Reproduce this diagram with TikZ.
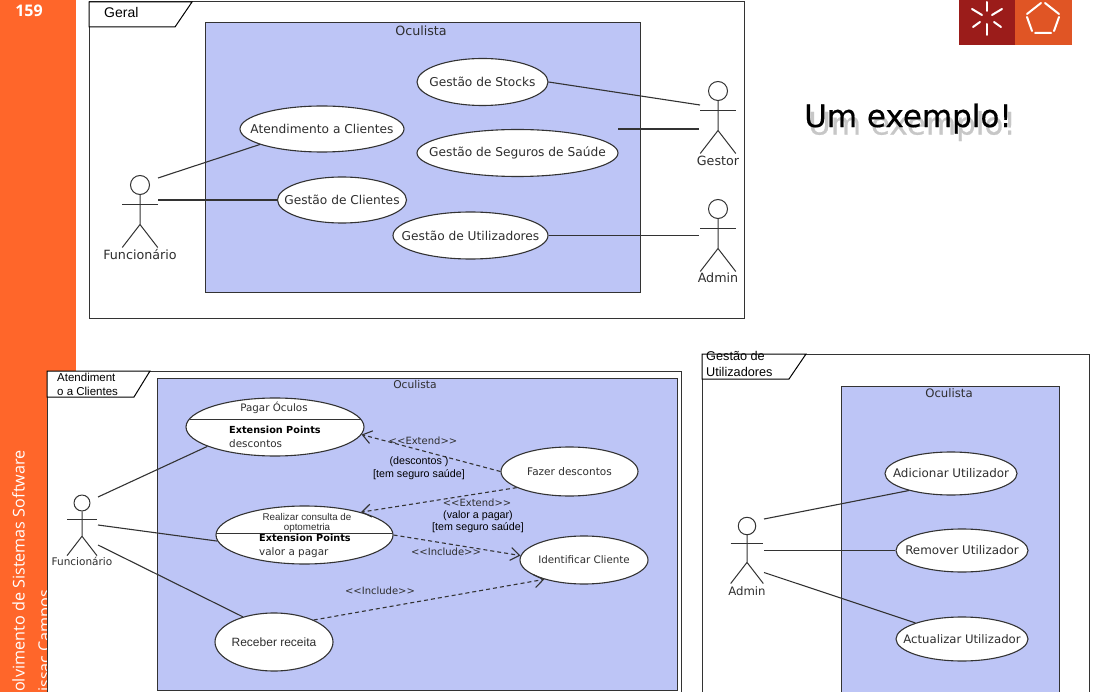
\documentclass[tikz,border=0pt]{standalone}
\usepackage{fontspec}
\setmainfont{Liberation Sans}
\newfontfamily\lucida{DejaVu Sans}
\newfontfamily\barfont{Open Sans}
\newfontfamily\titlefont[FakeBold=0.5]{DejaVu Sans}
\usetikzlibrary{shapes.geometric,arrows.meta}
\definecolor{sysblue}{HTML}{BDC5F6}
\definecolor{barorange}{HTML}{FF662A}
\definecolor{logored}{HTML}{9B1C1A}
\definecolor{logoorange}{HTML}{E05525}
\definecolor{umlink}{HTML}{333333}
\definecolor{umltext}{HTML}{2E2E2E}
\newcommand{\uc}[1]{\makebox[0pt][c]{#1}}
\tikzset{
  frameb/.style={draw=umlink,line width=1pt,fill=white},
  tabb/.style={draw=black,line width=1pt,fill=white},
  sysb/.style={draw=umlink,line width=1pt,fill=sysblue},
  ucase/.style={ellipse,draw=umlink,line width=1.1pt,fill=white,inner sep=0pt,text=umltext,font=\lucida\fontsize{12.2}{14}\selectfont},
  ucaseh/.style={ucase,font=\fontsize{12}{14}\selectfont},
  sysl/.style={text=umltext,font=\lucida\fontsize{12.7}{14}\selectfont,inner sep=0pt},
  alink/.style={draw=umlink,line width=1.1pt},
  dlink/.style={draw=umlink,line width=1.1pt,dash pattern=on 4pt off 3pt,-{Straight Barb[length=9pt,width=13pt]}},
  actl/.style={draw=umlink,line width=1pt},
  actlabel/.style={text=umltext,inner sep=0pt,font=\lucida\fontsize{#1}{14}\selectfont},
  actlabel/.default=12.7,
  stereo/.style={text=umltext,inner sep=0pt,font=\lucida\fontsize{10}{12}\selectfont},
  guard/.style={text=black,inner sep=0pt,font=\fontsize{10.7}{12}\selectfont},
  tabtext/.style={anchor=base west,inner sep=0pt,text=black},
  inbold/.style={anchor=base west,inner sep=0pt,text=black,font=\lucida\bfseries\fontsize{9.7}{12}\selectfont},
  innorm/.style={anchor=base west,inner sep=0pt,text=umltext,font=\lucida\fontsize{10.4}{12}\selectfont},
  logomark/.style={draw=white,line width=2pt,line cap=round},
}
\newcommand{\umlactor}[7]{%
  \node[circle,draw=umlink,line width=1pt,fill=white,inner sep=0pt,minimum size=#4*19pt] (#1) at (#2,#3) {};
  \draw[actl] (#1.south) -- ++(0,#4*29.5) coordinate (#1hip)
    -- ++(-#4*17.75,#4*23) (#1hip) -- ++(#4*17.75,#4*23);
  \draw[actl] (#2-#4*17.75,#3+#4*19.5) -- (#2+#4*17.75,#3+#4*19.5);
  \node[actlabel=#7] (#1lab) at (#2,#6) {#5};
}
\begin{document}
\begin{tikzpicture}[x=1pt,y=-1pt]
\useasboundingbox (0,0) rectangle (1097,692);
\fill[white] (0,0) rectangle (1097,692);
% side bar
\fill[barorange] (0,0) rectangle (76,692);
\node[inner sep=0pt,text=white,font=\barfont\bfseries\fontsize{16}{18}\selectfont] (page) at (29,11) {159};
\node[rotate=90,anchor=base west,inner sep=0pt,text=white,font=\barfont\fontsize{16.2}{18}\selectfont] (course) at (24.5,692) {olvimento de Sistemas Software};
\node[rotate=90,anchor=base west,inner sep=0pt,text=white,font=\barfont\fontsize{16.2}{18}\selectfont] (author) at (50,692) {issac Campos};
% logo
\fill[logored] (959,0) rectangle (1015,45);
\fill[logoorange] (1015,0) rectangle (1072,45);
\foreach \a/\b/\c/\d in {987/2/987/11, 987/24/987/35, 972/9/982/15, 1002/9/992/15, 973/27/980/22, 1001/27/994/22}
  \draw[logomark] (\a,\b) -- (\c,\d);
\draw[logomark] (1041,3) -- (1027,14) (1045,3) -- (1059,14) (1027,17) -- (1032,31) (1059,17) -- (1054,31) (1035,33) -- (1051,33);
% title
\node[inner sep=0pt,text=black!22,font=\titlefont\fontsize{31}{36}\selectfont] (titleshadow) at (912,126) {Um exemplo!};
\node[inner sep=0pt,text=black,font=\titlefont\fontsize{31}{36}\selectfont] (title) at (908,118.5) {Um exemplo!};

%% ---------- Geral
\draw[frameb] (89,2) rectangle (744,319);
\draw[tabb] (89,2) -- (192,2) -- (175,27) -- (89,27) -- cycle;
\node[tabtext,font=\fontsize{14}{16}\selectfont] (geral) at (104,18) {Geral};
\draw[sysb] (205,23) rectangle (640,293);
\node[sysl] (sysA) at (421,31) {Oculista};
\node[ucase,minimum width=164pt,minimum height=46pt] (atend) at (322,129) {\uc{Atendimento a Clientes}};
\node[ucase,minimum width=129pt,minimum height=46pt] (gclient) at (342,200) {\uc{Gestão de Clientes}};
\node[ucase,minimum width=131pt,minimum height=47pt] (stocks) at (482.5,82) {\uc{Gestão de Stocks}};
\node[ucase,minimum width=201pt,minimum height=47pt] (seguros) at (517.5,153) {\uc{Gestão de Seguros de Saúde}};
\node[ucase,minimum width=155pt,minimum height=47pt] (gutil) at (470.5,235.5) {\uc{Gestão de Utilizadores}};
\umlactor{func}{140}{185}{1}{Funcionário}{255}{12.7}
\umlactor{gestor}{718}{91}{1}{Gestor}{161}{12.7}
\umlactor{admin}{718}{209}{1}{Admin}{278}{12.7}
\coordinate (funcA) at (158,178);
\coordinate (funcB) at (158,200);
\coordinate (gestA) at (700,105);
\coordinate (gestB) at (699,129);
\coordinate (gestC) at (618,129);
\coordinate (admA) at (699,235.5);
\draw[alink] (funcA) -- (atend.194.5);
\draw[alink] (funcB) -- (gclient.west);
\draw[alink] (stocks.east) -- (gestA);
\draw[alink] (gestC) -- (gestB);
\draw[alink] (gutil.east) -- (admA);

%% ---------- Atendimento a Clientes
\draw[frameb] (47,371) -- (681,371) -- (681,700) -- (47,700) -- cycle;
\draw[tabb] (47,371) -- (150,371) -- (134,397) -- (47,397) -- cycle;
\node[tabtext,font=\fontsize{11.5}{14}\selectfont] (tabB) at (57,381.5) {Atendiment};
\node[tabtext,font=\fontsize{11.5}{14}\selectfont] (tabBb) at (57,395) {o a Clientes};
\draw[sysb] (157,378) rectangle (677,690.5);
\node[sysl,font=\lucida\fontsize{10.7}{12}\selectfont] (sysB) at (415,385) {Oculista};
\node[ucase,minimum width=178pt,minimum height=58pt] (pagar) at (275,427) {};
\draw[alink,line width=1pt] (190,419) -- (361,419);
\node[inner sep=0pt,text=umltext,font=\lucida\fontsize{10.3}{12}\selectfont] (pagart) at (274,408) {Pagar Óculos};
\node[inbold] (pagarx) at (229,433.5) {Extension Points};
\node[innorm] (pagard) at (229,447) {descontos};
\node[ucase,minimum width=177pt,minimum height=58pt] (consulta) at (304.5,535) {};
\draw[alink,line width=1pt] (217,533) -- (392,533);
\node[inner sep=0pt,text=umltext,font=\fontsize{9.8}{10}\selectfont] (consa) at (307,517) {Realizar consulta de};
\node[inner sep=0pt,text=umltext,font=\fontsize{9.8}{10}\selectfont] (consb) at (307,527.5) {optometria};
\node[inbold] (consx) at (259,541.5) {Extension Points};
\node[innorm] (consv) at (259,555.5) {valor a pagar};
\node[ucaseh,minimum width=118pt,minimum height=58pt] (receber) at (274,642) {\uc{Receber receita}};
\node[ucase,font=\lucida\fontsize{10.5}{12}\selectfont,minimum width=137pt,minimum height=49pt] (fazer) at (569.5,471.5) {\uc{Fazer descontos}};
\node[ucase,font=\lucida\fontsize{10.3}{12}\selectfont,minimum width=128pt,minimum height=48pt] (ident) at (584,560) {\uc{Identificar Cliente}};
\umlactor{funcb}{82}{503}{.84}{Funcionário}{561}{10.5}
\coordinate (fbA) at (98,497);
\coordinate (fbB) at (98,525);
\coordinate (fbC) at (98,545);
\draw[alink] (fbA) -- (pagar.196.6);
\draw[alink] (fbB) -- (consulta.184.2);
\draw[alink] (fbC) -- (receber.141.6);
\draw[dlink] (fazer.west) -- (pagar.-5.1);
\draw[dlink] (fazer.197.4) -- (consulta.22.5);
\draw[dlink] (consulta.east) -- (ident.176);
\draw[dlink] (receber.29.3) -- (ident.206.6);
\node[stereo] (extA) at (423,441) {<<Extend>>};
\node[guard] (gA) at (419,462) {(descontos )};
\node[guard] (gAb) at (419,475) {[tem seguro saúde]};
\node[stereo] (extB) at (477,503) {<<Extend>>};
\node[guard] (gB) at (478,515.5) {(valor a pagar)};
\node[guard] (gBb) at (478,528) {[tem seguro saúde]};
\node[stereo] (incA) at (446,552) {<<Include>>};
\node[stereo] (incB) at (380,591) {<<Include>>};

%% ---------- Gestao de Utilizadores
\draw[frameb] (702,354) -- (1089,354) -- (1089,700) -- (702,700) -- cycle;
\draw[tabb] (702,354) -- (806,354) -- (789,379) -- (702,379) -- cycle;
\node[tabtext,font=\fontsize{12.7}{15}\selectfont] (tabC) at (706,360) {Gestão de};
\node[tabtext,font=\fontsize{12.7}{15}\selectfont] (tabCb) at (706,376.5) {Utilizadores};
\draw[sysb] (841,386) rectangle (1059,700);
\node[sysl,font=\lucida\fontsize{11.7}{14}\selectfont] (sysC) at (949,393) {Oculista};
\node[ucase,font=\lucida\fontsize{11.9}{14}\selectfont,minimum width=132pt,minimum height=43pt] (addu) at (951,473.5) {\uc{Adicionar Utilizador}};
\node[ucase,font=\lucida\fontsize{11.9}{14}\selectfont,minimum width=132pt,minimum height=43pt] (remu) at (962,550.5) {\uc{Remover Utilizador}};
\node[ucase,font=\lucida\fontsize{11.7}{14}\selectfont,minimum width=132pt,minimum height=44pt] (actu) at (962,639) {\uc{Actualizar Utilizador}};
\umlactor{adminb}{747}{526}{.92}{Admin}{591}{11.7}
\coordinate (abA) at (764,519);
\coordinate (abB) at (764,550.5);
\coordinate (abC) at (764,572.5);
\draw[alink] (abA) -- (addu.202);
\draw[alink] (abB) -- (remu.west);
\draw[alink] (abC) -- (actu.161.6);
\end{tikzpicture}
\end{document}
